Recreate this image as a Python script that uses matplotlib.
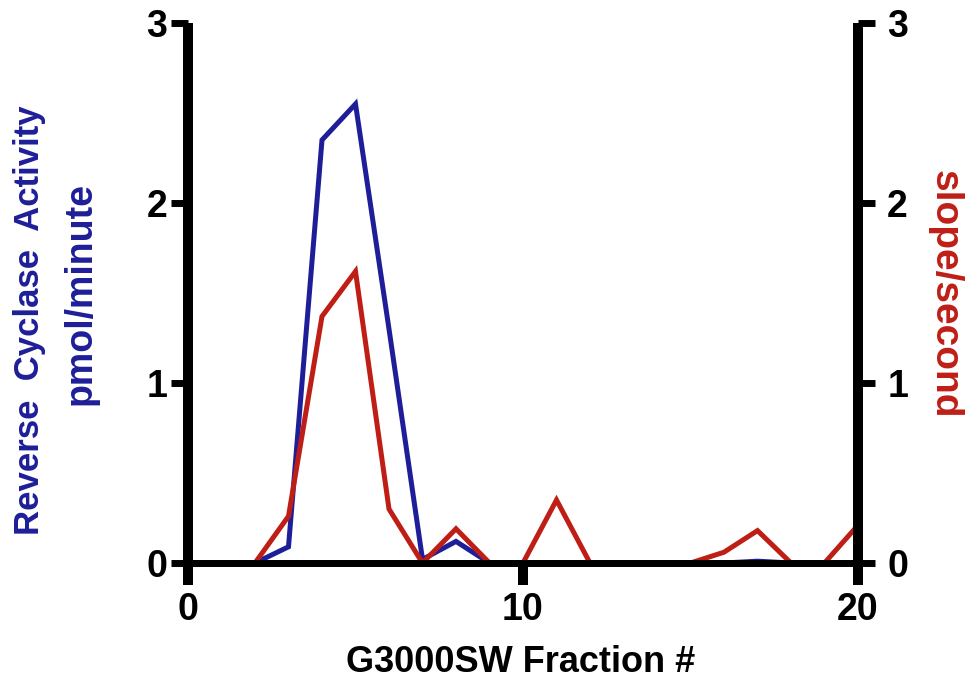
import matplotlib
matplotlib.use("Agg")
import matplotlib.pyplot as plt

fraction = list(range(1, 21))
reverse_cyclase = [0, 0, 0.09, 2.35, 2.55, 1.3, 0.02, 0.12, 0, 0, 0, 0, 0, 0, 0, 0, 0.01, 0, 0, 0]
slope = [0, 0, 0.26, 1.37, 1.62, 0.30, 0, 0.19, 0, 0, 0.35, 0, 0, 0, 0, 0.06, 0.18, 0, 0, 0.21]

xticks = [0, 10, 20]
yticks = [0, 1, 2, 3]

BLUE = "#1e1e98"
RED = "#bf1e16"
FONT = "Liberation Sans"

plt.rcParams['font.family'] = [FONT, 'DejaVu Sans']
plt.rcParams['font.weight'] = 'bold'

W, H = 968, 687
fig = plt.figure(figsize=(W / 100, H / 100), dpi=100)
x0, x1, y0, y1 = 188, 858, 563, 23
ax = fig.add_axes([x0 / W, 1 - y0 / H, (x1 - x0) / W, (y0 - y1) / H])
ax2 = ax.twinx()

ax.plot(fraction, reverse_cyclase, color=BLUE, lw=3.6, solid_joinstyle='miter', zorder=2)
ax2.plot(fraction, slope, color=RED, lw=3.6, solid_joinstyle='miter', zorder=2)

for a in (ax, ax2):
    a.set_xlim(0, 20)
    a.set_ylim(0, 3)
    a.spines['top'].set_visible(False)
    for s in ('left', 'right'):
        a.spines[s].set_linewidth(7.2)
    a.spines['bottom'].set_linewidth(5.0)
    for s in ('left', 'bottom', 'right'):
        a.spines[s].set_color('black')
        a.spines[s].set_zorder(5)
        a.spines[s].set_capstyle('butt')
    a.set_yticks(yticks)
    a.tick_params(axis='y', length=12, width=5.0, labelsize=27, colors='black')
    a.tick_params(axis='x', length=16, width=7.2, labelsize=27, pad=5, colors='black')
    for lbl in a.get_yticklabels() + a.get_xticklabels():
        lbl.set_fontweight('bold')

ax.tick_params(axis='y', pad=3)
ax2.tick_params(axis='y', pad=9)
ax.spines['right'].set_visible(False)
ax2.spines['left'].set_visible(False)
ax.set_xticks(xticks)

fig.text(30 / W, 1 - 320 / H, "Reverse  Cyclase  Activity", color=BLUE, fontsize=25,
         fontweight='bold', rotation=90, ha='center', va='center')
fig.text(81 / W, 1 - 293 / H, "pmol/minute", color=BLUE, fontsize=27,
         fontweight='bold', rotation=90, ha='center', va='center')
fig.text(945 / W, 1 - 294 / H, "slope/second", color=RED, fontsize=28,
         fontweight='bold', rotation=270, ha='center', va='center')
fig.text(521 / W, 1 - 663 / H, "G3000SW Fraction #", color='black', fontsize=26,
         fontweight='bold', ha='center', va='center')

fig.savefig("out.png", dpi=100)
